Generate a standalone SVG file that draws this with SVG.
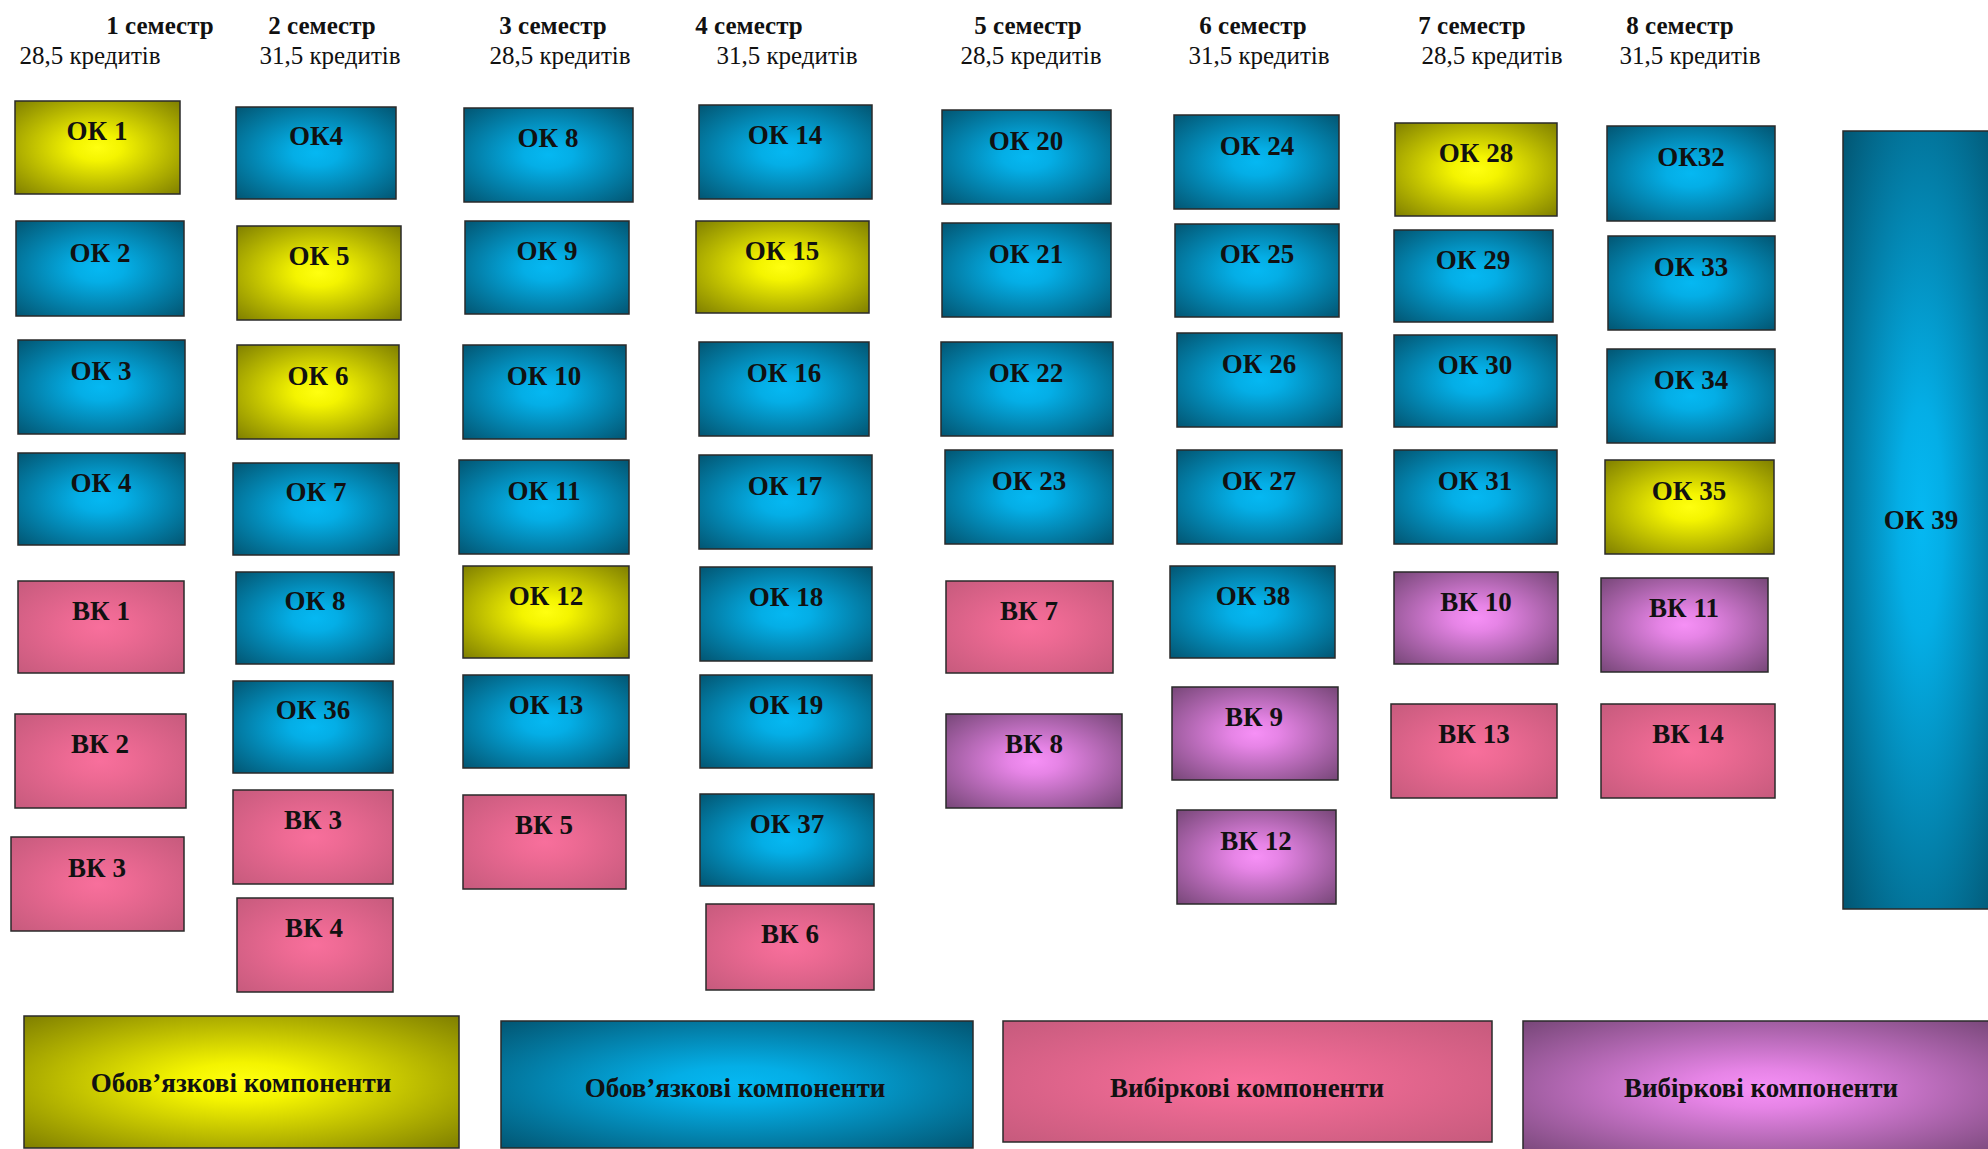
<svg xmlns="http://www.w3.org/2000/svg" width="1988" height="1149" viewBox="0 0 1988 1149">
<defs>
<radialGradient id="gY" cx="0.5" cy="0.5" r="0.72">
<stop offset="0" stop-color="#ffff10"/><stop offset="0.2" stop-color="#f4f400"/><stop offset="1" stop-color="#7c7c00"/>
</radialGradient>
<radialGradient id="gB" cx="0.5" cy="0.5" r="0.72">
<stop offset="0" stop-color="#05b8f2"/><stop offset="0.2" stop-color="#04aee6"/><stop offset="1" stop-color="#02536f"/>
</radialGradient>
<radialGradient id="gP" cx="0.5" cy="0.5" r="0.72">
<stop offset="0" stop-color="#f86f9c"/><stop offset="0.25" stop-color="#ee6a94"/><stop offset="1" stop-color="#c55a7c"/>
</radialGradient>
<radialGradient id="gV" cx="0.5" cy="0.5" r="0.72">
<stop offset="0" stop-color="#f690f6"/><stop offset="0.2" stop-color="#e684e6"/><stop offset="1" stop-color="#744575"/>
</radialGradient>
</defs>
<style>
rect{stroke:#2a2a2a;stroke-width:1.5}
.y{fill:url(#gY)}.b{fill:url(#gB)}.p{fill:url(#gP)}.v{fill:url(#gV)}
text{font-family:"Liberation Serif","Times New Roman",serif;text-anchor:middle;fill:#111}
.l{font-size:27px;font-weight:bold}
.s{font-size:25px;font-weight:bold}
.c{font-size:25px}
.g{font-size:27px;font-weight:bold}
</style>
<rect x="0" y="0" width="1988" height="1149" style="fill:#fff;stroke:none"/>
<g id="headers">
<text class="s" x="160" y="34">1 семестр</text><text class="c" x="90" y="64">28,5 кредитів</text>
<text class="s" x="322" y="34">2 семестр</text><text class="c" x="330" y="64">31,5 кредитів</text>
<text class="s" x="553" y="34">3 семестр</text><text class="c" x="560" y="64">28,5 кредитів</text>
<text class="s" x="749" y="34">4 семестр</text><text class="c" x="787" y="64">31,5 кредитів</text>
<text class="s" x="1028" y="34">5 семестр</text><text class="c" x="1031" y="64">28,5 кредитів</text>
<text class="s" x="1253" y="34">6 семестр</text><text class="c" x="1259" y="64">31,5 кредитів</text>
<text class="s" x="1472" y="34">7 семестр</text><text class="c" x="1492" y="64">28,5 кредитів</text>
<text class="s" x="1680" y="34">8 семестр</text><text class="c" x="1690" y="64">31,5 кредитів</text>
</g>
<g id="connectors"/>
<!-- Column 1 -->
<g id="ok1"><rect class="y" x="15" y="101" width="165" height="93"/><text class="l" x="97" y="140">ОК 1</text></g>
<g id="ok2"><rect class="b" x="16" y="221" width="168" height="95"/><text class="l" x="100" y="262">ОК 2</text></g>
<g id="ok3"><rect class="b" x="18" y="340" width="167" height="94"/><text class="l" x="101" y="380">ОК 3</text></g>
<g id="ok4a"><rect class="b" x="18" y="453" width="167" height="92"/><text class="l" x="101" y="492">ОК 4</text></g>
<g id="vk1"><rect class="p" x="18" y="581" width="166" height="92"/><text class="l" x="101" y="620">ВК 1</text></g>
<g id="vk2"><rect class="p" x="15" y="714" width="171" height="94"/><text class="l" x="100" y="753">ВК 2</text></g>
<g id="vk3a"><rect class="p" x="11" y="837" width="173" height="94"/><text class="l" x="97" y="877">ВК 3</text></g>
<!-- Column 2 -->
<g id="ok4b"><rect class="b" x="236" y="107" width="160" height="92"/><text class="l" x="316" y="145">ОК4</text></g>
<g id="ok5"><rect class="y" x="237" y="226" width="164" height="94"/><text class="l" x="319" y="265">ОК 5</text></g>
<g id="ok6"><rect class="y" x="237" y="345" width="162" height="94"/><text class="l" x="318" y="385">ОК 6</text></g>
<g id="ok7"><rect class="b" x="233" y="463" width="166" height="92"/><text class="l" x="316" y="501">ОК 7</text></g>
<g id="ok8b"><rect class="b" x="236" y="572" width="158" height="92"/><text class="l" x="315" y="610">ОК 8</text></g>
<g id="ok36"><rect class="b" x="233" y="681" width="160" height="92"/><text class="l" x="313" y="719">ОК 36</text></g>
<g id="vk3b"><rect class="p" x="233" y="790" width="160" height="94"/><text class="l" x="313" y="829">ВК 3</text></g>
<g id="vk4"><rect class="p" x="237" y="898" width="156" height="94"/><text class="l" x="314" y="937">ВК 4</text></g>
<!-- Column 3 -->
<g id="ok8c"><rect class="b" x="464" y="108" width="169" height="94"/><text class="l" x="548" y="147">ОК 8</text></g>
<g id="ok9"><rect class="b" x="465" y="221" width="164" height="93"/><text class="l" x="547" y="260">ОК 9</text></g>
<g id="ok10"><rect class="b" x="463" y="345" width="163" height="94"/><text class="l" x="544" y="385">ОК 10</text></g>
<g id="ok11"><rect class="b" x="459" y="460" width="170" height="94"/><text class="l" x="544" y="500">ОК 11</text></g>
<g id="ok12"><rect class="y" x="463" y="566" width="166" height="92"/><text class="l" x="546" y="605">ОК 12</text></g>
<g id="ok13"><rect class="b" x="463" y="675" width="166" height="93"/><text class="l" x="546" y="714">ОК 13</text></g>
<g id="vk5"><rect class="p" x="463" y="795" width="163" height="94"/><text class="l" x="544" y="834">ВК 5</text></g>
<!-- Column 4 -->
<g id="ok14"><rect class="b" x="699" y="105" width="173" height="94"/><text class="l" x="785" y="144">ОК 14</text></g>
<g id="ok15"><rect class="y" x="696" y="221" width="173" height="92"/><text class="l" x="782" y="260">ОК 15</text></g>
<g id="ok16"><rect class="b" x="699" y="342" width="170" height="94"/><text class="l" x="784" y="382">ОК 16</text></g>
<g id="ok17"><rect class="b" x="699" y="455" width="173" height="94"/><text class="l" x="785" y="495">ОК 17</text></g>
<g id="ok18"><rect class="b" x="700" y="567" width="172" height="94"/><text class="l" x="786" y="606">ОК 18</text></g>
<g id="ok19"><rect class="b" x="700" y="675" width="172" height="93"/><text class="l" x="786" y="714">ОК 19</text></g>
<g id="ok37"><rect class="b" x="700" y="794" width="174" height="92"/><text class="l" x="787" y="833">ОК 37</text></g>
<g id="vk6"><rect class="p" x="706" y="904" width="168" height="86"/><text class="l" x="790" y="943">ВК 6</text></g>
<!-- Column 5 -->
<g id="ok20"><rect class="b" x="942" y="110" width="169" height="94"/><text class="l" x="1026" y="150">ОК 20</text></g>
<g id="ok21"><rect class="b" x="942" y="223" width="169" height="94"/><text class="l" x="1026" y="263">ОК 21</text></g>
<g id="ok22"><rect class="b" x="941" y="342" width="172" height="94"/><text class="l" x="1026" y="382">ОК 22</text></g>
<g id="ok23"><rect class="b" x="945" y="450" width="168" height="94"/><text class="l" x="1029" y="490">ОК 23</text></g>
<g id="vk7"><rect class="p" x="946" y="581" width="167" height="92"/><text class="l" x="1029" y="620">ВК 7</text></g>
<g id="vk8"><rect class="v" x="946" y="714" width="176" height="94"/><text class="l" x="1034" y="753">ВК 8</text></g>
<!-- Column 6 -->
<g id="ok24"><rect class="b" x="1174" y="115" width="165" height="94"/><text class="l" x="1257" y="155">ОК 24</text></g>
<g id="ok25"><rect class="b" x="1175" y="224" width="164" height="93"/><text class="l" x="1257" y="263">ОК 25</text></g>
<g id="ok26"><rect class="b" x="1177" y="333" width="165" height="94"/><text class="l" x="1259" y="373">ОК 26</text></g>
<g id="ok27"><rect class="b" x="1177" y="450" width="165" height="94"/><text class="l" x="1259" y="490">ОК 27</text></g>
<g id="ok38"><rect class="b" x="1170" y="566" width="165" height="92"/><text class="l" x="1253" y="605">ОК 38</text></g>
<g id="vk9"><rect class="v" x="1172" y="687" width="166" height="93"/><text class="l" x="1254" y="726">ВК 9</text></g>
<g id="vk12"><rect class="v" x="1177" y="810" width="159" height="94"/><text class="l" x="1256" y="850">ВК 12</text></g>
<!-- Column 7 -->
<g id="ok28"><rect class="y" x="1395" y="123" width="162" height="93"/><text class="l" x="1476" y="162">ОК 28</text></g>
<g id="ok29"><rect class="b" x="1394" y="230" width="159" height="92"/><text class="l" x="1473" y="269">ОК 29</text></g>
<g id="ok30"><rect class="b" x="1394" y="335" width="163" height="92"/><text class="l" x="1475" y="374">ОК 30</text></g>
<g id="ok31"><rect class="b" x="1394" y="450" width="163" height="94"/><text class="l" x="1475" y="490">ОК 31</text></g>
<g id="vk10"><rect class="v" x="1394" y="572" width="164" height="92"/><text class="l" x="1476" y="611">ВК 10</text></g>
<g id="vk13"><rect class="p" x="1391" y="704" width="166" height="94"/><text class="l" x="1474" y="743">ВК 13</text></g>
<!-- Column 8 -->
<g id="ok32"><rect class="b" x="1607" y="126" width="168" height="95"/><text class="l" x="1691" y="166">ОК32</text></g>
<g id="ok33"><rect class="b" x="1608" y="236" width="167" height="94"/><text class="l" x="1691" y="276">ОК 33</text></g>
<g id="ok34"><rect class="b" x="1607" y="349" width="168" height="94"/><text class="l" x="1691" y="389">ОК 34</text></g>
<g id="ok35"><rect class="y" x="1605" y="460" width="169" height="94"/><text class="l" x="1689" y="500">ОК 35</text></g>
<g id="vk11"><rect class="v" x="1601" y="578" width="167" height="94"/><text class="l" x="1684" y="617">ВК 11</text></g>
<g id="vk14"><rect class="p" x="1601" y="704" width="174" height="94"/><text class="l" x="1688" y="743">ВК 14</text></g>
<!-- OK 39 -->
<g id="ok39"><rect class="b" x="1843" y="131" width="157" height="778"/><text class="l" x="1921" y="529">ОК 39</text></g>
<!-- Legend -->
<g id="legend-yellow"><rect class="y" x="24" y="1016" width="435" height="132"/><text class="g" x="241" y="1092">Обов’язкові компоненти</text></g>
<g id="legend-blue"><rect class="b" x="501" y="1021" width="472" height="127"/><text class="g" x="735" y="1097">Обов’язкові компоненти</text></g>
<g id="legend-pink"><rect class="p" x="1003" y="1021" width="489" height="121"/><text class="g" x="1247" y="1097">Вибіркові компоненти</text></g>
<g id="legend-purple"><rect class="v" x="1523" y="1021" width="477" height="135"/><text class="g" x="1761" y="1097">Вибіркові компоненти</text></g>
</svg>
